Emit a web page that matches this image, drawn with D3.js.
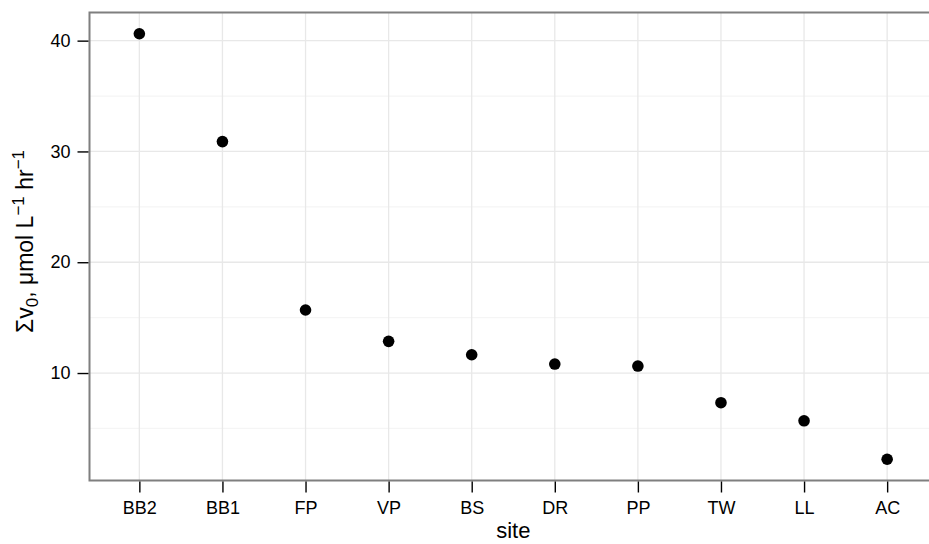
<!DOCTYPE html>
<html>
<head>
<meta charset="utf-8">
<script src="https://cdn.jsdelivr.net/npm/d3@7"></script>
<style>
  html, body { margin: 0; padding: 0; background: #ffffff; }
  svg { display: block; font-family: "Liberation Sans", Arial, Helvetica, sans-serif; }
</style>
</head>
<body>
<svg id="chart" width="929" height="544"></svg>
<script>
// ---- data ----
const sites = ["BB2", "BB1", "FP", "VP", "BS", "DR", "PP", "TW", "LL", "AC"];
const sumV0 = [40.62, 30.89, 15.69, 12.86, 11.65, 10.81, 10.63, 7.32, 5.69, 2.22];
const yTicks = [10, 20, 30, 40];
const yMinorTicks = [5, 15, 25, 35];
const xTitle = "site";

// ---- layout ----
const W = 929, H = 544;
const panel = { left: 89.5, top: 12.5, right: 937, bottom: 480.5 };

const svg = d3.select("#chart");

const x = d3.scalePoint()
  .domain(sites)
  .range([panel.left, panel.right])
  .padding(0.6);

const yMin = d3.min(sumV0), yMax = d3.max(sumV0);
const pad = (yMax - yMin) * 0.05;
const y = d3.scaleLinear()
  .domain([yMin - pad, yMax + pad])
  .range([panel.bottom, panel.top]);

// panel background
svg.append("rect")
  .attr("x", panel.left).attr("y", panel.top)
  .attr("width", panel.right - panel.left)
  .attr("height", panel.bottom - panel.top)
  .attr("fill", "#ffffff");

const grid = svg.append("g");
// minor y gridlines
grid.selectAll("line.minor").data(yMinorTicks).enter().append("line")
  .attr("class", "minor")
  .attr("x1", panel.left).attr("x2", panel.right)
  .attr("y1", d => y(d)).attr("y2", d => y(d))
  .attr("stroke", "#f5f5f5").attr("stroke-width", 1.3);
// major y gridlines
grid.selectAll("line.majy").data(yTicks).enter().append("line")
  .attr("class", "majy")
  .attr("x1", panel.left).attr("x2", panel.right)
  .attr("y1", d => y(d)).attr("y2", d => y(d))
  .attr("stroke", "#e8e8e8").attr("stroke-width", 1.3);
// major x gridlines
grid.selectAll("line.majx").data(sites).enter().append("line")
  .attr("class", "majx")
  .attr("x1", d => x(d)).attr("x2", d => x(d))
  .attr("y1", panel.top).attr("y2", panel.bottom)
  .attr("stroke", "#e8e8e8").attr("stroke-width", 1.3);

// points
svg.append("g").selectAll("circle").data(sites).enter().append("circle")
  .attr("cx", d => x(d))
  .attr("cy", (d, i) => y(sumV0[i]))
  .attr("r", 5.8)
  .attr("fill", "#000000");

// panel border
svg.append("rect")
  .attr("x", panel.left).attr("y", panel.top)
  .attr("width", panel.right - panel.left)
  .attr("height", panel.bottom - panel.top)
  .attr("fill", "none")
  .attr("stroke", "#7f7f7f").attr("stroke-width", 2);

// axes
const xAxis = svg.append("g")
  .attr("transform", `translate(0,${panel.bottom + 1})`)
  .call(d3.axisBottom(x).tickSize(11).tickPadding(7));
const yAxis = svg.append("g")
  .attr("transform", `translate(${panel.left - 1},0)`)
  .call(d3.axisLeft(y).tickValues(yTicks).tickSize(11).tickPadding(7).tickFormat(d3.format("d")));

[xAxis, yAxis].forEach(g => {
  g.select(".domain").remove();
  g.selectAll(".tick line").attr("stroke", "#000").attr("stroke-width", 1.4);
  g.selectAll(".tick text")
    .attr("fill", "#000")
    .style("font-size", "18px")
    .style("font-family", "'Liberation Sans', Arial, sans-serif");
});
xAxis.selectAll(".tick text").attr("dy", "0.78em");

// x title
svg.append("text")
  .attr("x", (panel.left + panel.right) / 2)
  .attr("y", 538)
  .attr("text-anchor", "middle")
  .style("font-size", "22px")
  .attr("fill", "#000")
  .text(xTitle);

// y title with sub/superscripts
const yt = svg.append("text")
  .attr("transform", `translate(33,${(panel.top + panel.bottom) / 2 - 5}) rotate(-90)`)
  .attr("text-anchor", "middle")
  .style("font-size", "23px")
  .attr("fill", "#000");
yt.append("tspan").text("Σv");
yt.append("tspan").attr("dy", 5).style("font-size", "17px").text("0");
yt.append("tspan").attr("dy", -5).text(", μmol L");
yt.append("tspan").attr("dy", -9).style("font-size", "17px").text("−1");
yt.append("tspan").attr("dy", 9).text(" hr");
yt.append("tspan").attr("dy", -9).style("font-size", "17px").text("−1");
</script>
</body>
</html>
